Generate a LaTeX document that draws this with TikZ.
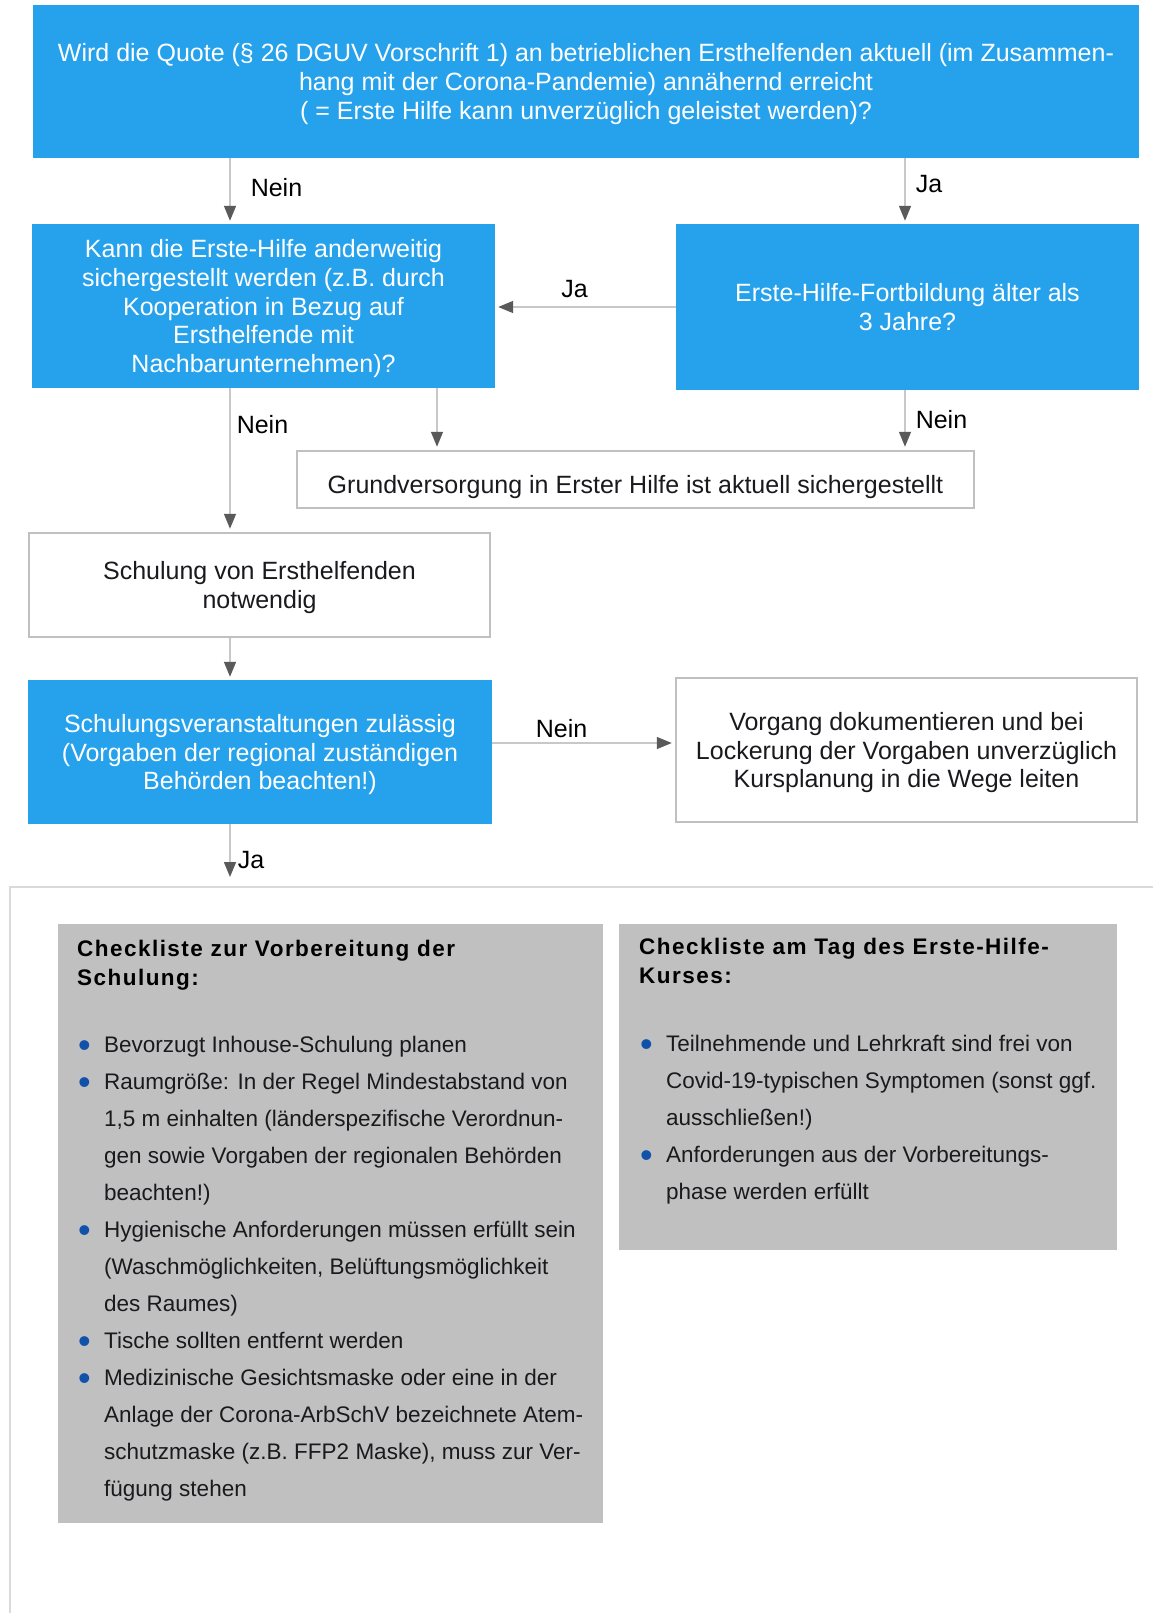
\documentclass[tikz,border=0pt]{standalone}
\usepackage{fontspec}
\setmainfont{Liberation Sans}
\newfontfamily\titelschrift[LetterSpace=6.5]{Liberation Sans}
\usetikzlibrary{arrows.meta, positioning, calc}
\usepackage{xcolor}
\definecolor{dguvblau}{RGB}{38,162,237}
\definecolor{rahmengrau}{RGB}{192,192,192}
\definecolor{liniengrau}{RGB}{200,200,200}
\definecolor{spitzengrau}{RGB}{90,90,90}
\definecolor{kastengrau}{RGB}{192,192,192}
\definecolor{punktblau}{RGB}{16,82,170}
\definecolor{textschwarz}{RGB}{26,26,30}
\definecolor{panelgrau}{RGB}{218,218,218}

\newcommand{\punkt}{\makebox[26pt][l]{\raisebox{-4.5pt}{\fontsize{36}{36}\selectfont\textcolor{punktblau}{\textbullet}}}}
\newcommand{\weiter}{\hspace*{26pt}}

\begin{document}
\begin{tikzpicture}[x=1pt, y=-1pt,
    frage/.style={fill=dguvblau, text=white, align=center, inner sep=0pt, text depth=0pt,
        font=\fontsize{25}{28.8}\selectfont},
    hinweis/.style={draw=rahmengrau, line width=2.5pt, fill=white, text=textschwarz,
        align=center, inner sep=0pt, text depth=0pt, font=\fontsize{25}{28.8}\selectfont},
    kasten/.style={fill=kastengrau, inner sep=0pt},
    titel/.style={align=left, inner sep=0pt, text=black,
        font=\titelschrift\bfseries\fontsize{22.5}{29}\selectfont},
    liste/.style={align=left, inner sep=0pt, text=textschwarz,
        font=\fontsize{22.5}{37}\selectfont},
    pfeil/.style={liniengrau, line width=1.5pt, shorten >=3pt,
        -{Triangle[length=15pt, width=12pt, color=spitzengrau, fill=spitzengrau]}},
    beschriftung/.style={text=black, inner sep=2pt, font=\fontsize{25}{28}\selectfont}]

    \useasboundingbox (0,0) rectangle (1152,1613);

    % Rahmen unten
    \draw[panelgrau, line width=2pt] (10,1630) -- (10,887) -- (1170,887);

    % Hilfslinien fuer die Pfeile
    \coordinate (linksX) at (230,0);
    \coordinate (mitteX) at (437,0);
    \coordinate (rechtsX) at (905,0);
    \coordinate (neinY) at (0,743);
    \coordinate (ende) at (230,880);

    % Entscheidungen
    \node[frage, minimum width=1106pt, minimum height=153pt] (quote) at (586,81.5)
        {Wird die Quote (§ 26 DGUV Vorschrift 1) an betrieblichen Ersthelfenden aktuell (im Zusammen-\\
         hang mit der Corona-Pandemie) annähernd erreicht\\
         ( = Erste Hilfe kann unverzüglich geleistet werden)?};
    \node[frage, minimum width=463pt, minimum height=164pt] (anderweitig) at (263.5,306)
        {Kann die Erste-Hilfe anderweitig\\sichergestellt werden (z.B. durch\\Kooperation in Bezug auf\\Ersthelfende mit\\Nachbarunternehmen)?};
    \node[frage, minimum width=463pt, minimum height=166pt] (fortbildung) at (907.5,307)
        {Erste-Hilfe-Fortbildung älter als\\3 Jahre?};
    \node[hinweis, minimum width=677pt, minimum height=57pt, text height=27pt] (grundvers) at (635.5,479.5)
        {Grundversorgung in Erster Hilfe ist aktuell sichergestellt};
    \node[hinweis, minimum width=461pt, minimum height=104pt] (schulung) at (259.5,585)
        {Schulung von Ersthelfenden\\notwendig};
    \node[frage, minimum width=464pt, minimum height=144pt] (zulaessig) at (260,752)
        {Schulungsveranstaltungen zulässig\\(Vorgaben der regional zuständigen\\Behörden beachten!)};
    \node[hinweis, minimum width=461pt, minimum height=144pt] (vorgang) at (906.5,750)
        {Vorgang dokumentieren und bei\\Lockerung der Vorgaben unverzüglich\\Kursplanung in die Wege leiten};

    % Pfeile
    \draw[pfeil] (quote.south -| linksX) -- (anderweitig.north -| linksX)
        node[beschriftung, pos=0.45, right=18pt] {Nein};
    \draw[pfeil] (quote.south -| rechtsX) -- (fortbildung.north -| rechtsX)
        node[beschriftung, pos=0.39, right=8pt] {Ja};
    \draw[pfeil] (fortbildung.west) -- (fortbildung.west -| anderweitig.east)
        node[beschriftung, pos=0.56, above=7pt] {Ja};
    \draw[pfeil] (anderweitig.south -| linksX) -- (schulung.north -| linksX)
        node[beschriftung, pos=0.25, right=4pt] {Nein};
    \draw[pfeil] (anderweitig.south -| mitteX) -- (grundvers.north -| mitteX);
    \draw[pfeil] (fortbildung.south -| rechtsX) -- (grundvers.north -| rechtsX)
        node[beschriftung, midway, right=8pt] {Nein};
    \draw[pfeil] (schulung.south -| linksX) -- (zulaessig.north -| linksX);
    \draw[pfeil] (zulaessig.east |- neinY) -- (vorgang.west |- neinY)
        node[beschriftung, pos=0.38, above=3pt] {Nein};
    \draw[pfeil] (zulaessig.south -| linksX) -- (ende)
        node[beschriftung, pos=0.65, right=5pt] {Ja};

    % Checklisten
    \node[kasten, minimum width=545pt, minimum height=599pt] (vorbereitung) at (330.5,1223.5) {};
    \node[kasten, minimum width=498pt, minimum height=326pt] (kurstag) at (868,1087) {};

    % (base = Grundlinie der letzten Zeile)
    \node[titel, anchor=base west] (vorbTitel) at (77,985)
        {Checkliste zur Vorbereitung der\\Schulung:};
    \node[titel, anchor=base west] (tagTitel) at (639,983.5)
        {Checkliste am Tag des Erste-Hilfe-\\Kurses:};

    \node[liste, anchor=base west] (vorbListe) at (78,1496.5)
        {\punkt Bevorzugt Inhouse-Schulung planen\\
         \punkt Raumgröße: In der Regel Mindestabstand von\\
         \weiter 1,5 m einhalten (länderspezifische Verordnun-\\
         \weiter gen sowie Vorgaben der regionalen Behörden\\
         \weiter beachten!)\\
         \punkt Hygienische Anforderungen müssen erfüllt sein\\
         \weiter (Waschmöglichkeiten, Belüftungsmöglichkeit\\
         \weiter des Raumes)\\
         \punkt Tische sollten entfernt werden\\
         \punkt Medizinische Gesichtsmaske oder eine in der\\
         \weiter Anlage der Corona-ArbSchV bezeichnete Atem-\\
         \weiter schutzmaske (z.B. FFP2 Maske), muss zur Ver-\\
         \weiter fügung stehen};
    \node[liste, anchor=base west] (tagListe) at (640,1199.5)
        {\punkt Teilnehmende und Lehrkraft sind frei von\\
         \weiter Covid-19-typischen Symptomen (sonst ggf.\\
         \weiter ausschließen!)\\
         \punkt Anforderungen aus der Vorbereitungs-\\
         \weiter phase werden erfüllt};

\end{tikzpicture}
\end{document}
